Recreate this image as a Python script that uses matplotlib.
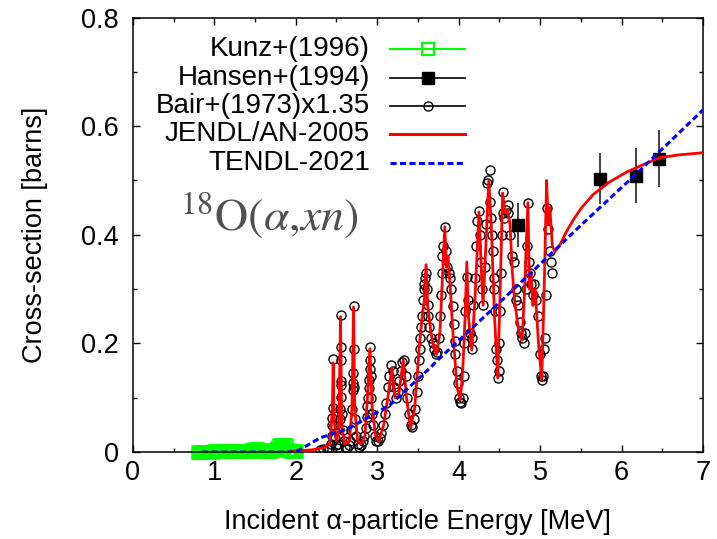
import numpy as np
import matplotlib
matplotlib.use('Agg')
import matplotlib.pyplot as plt
from matplotlib.ticker import MultipleLocator

plt.rcParams['font.family'] = ['Liberation Sans', 'DejaVu Sans']
plt.rcParams['mathtext.fontset'] = 'stix'

# Kunz+(1996) : 閾値以下の小さい値
kunz_e = [0.80, 0.825, 0.85, 0.875, 0.90, 0.925, 0.95, 0.975, 1.00, 1.025, 1.05, 1.075,
          1.10, 1.125, 1.15, 1.175, 1.20, 1.225, 1.25, 1.275, 1.30, 1.325, 1.35, 1.375,
          1.40, 1.425, 1.45, 1.475, 1.50, 1.525, 1.55, 1.575, 1.60, 1.625, 1.65, 1.675,
          1.70, 1.725, 1.75, 1.775, 1.80, 1.825, 1.85, 1.875, 1.90, 1.925, 1.95, 1.975, 2.00]
kunz_xs = [0.0, 0.0, 0.0, 0.0, 0.0005, 0.0005, 0.0005, 0.0005, 0.001, 0.001, 0.001, 0.001,
           0.001, 0.001, 0.001, 0.001, 0.001, 0.001, 0.001, 0.001, 0.001, 0.001, 0.0015, 0.0015,
           0.002, 0.002, 0.003, 0.004, 0.005, 0.005, 0.004, 0.003, 0.002, 0.002, 0.002, 0.002,
           0.002, 0.003, 0.004, 0.008, 0.012, 0.013, 0.013, 0.012, 0.003, 0.002, 0.002, 0.002, 0.002]

# Hansen+(1994)
hansen_e = [4.73, 5.73, 6.18, 6.46]
hansen_xs = [0.418, 0.503, 0.509, 0.540]
hansen_err = [0.040, 0.047, 0.050, 0.052]

# Bair+(1973) x1.35
bair_e = [2.30, 2.34, 2.38, 2.41, 2.43, 2.44, 2.45, 2.45, 2.46, 2.46, 2.47, 2.48, 2.49,
          2.51, 2.52, 2.53, 2.54, 2.54, 2.55, 2.55, 2.55, 2.55, 2.55, 2.56, 2.57, 2.58, 2.59,
          2.61, 2.63, 2.65, 2.67, 2.68, 2.69, 2.70, 2.70, 2.70, 2.71, 2.71, 2.72, 2.73, 2.74,
          2.76, 2.78, 2.80, 2.82, 2.84, 2.86, 2.87, 2.88, 2.89, 2.90, 2.90, 2.91, 2.91, 2.91,
          2.92, 2.93, 2.94, 2.95, 2.97, 2.99, 3.01, 3.03, 3.05, 3.07, 3.09, 3.11, 3.13, 3.15,
          3.17, 3.19, 3.21, 3.23, 3.25, 3.27, 3.29, 3.31, 3.33, 3.35, 3.37, 3.39, 3.41, 3.43,
          3.45, 3.47, 3.49, 3.50, 3.51, 3.52, 3.53, 3.54, 3.55, 3.56, 3.57, 3.58, 3.59, 3.60,
          3.61, 3.62, 3.63, 3.64, 3.66, 3.68, 3.70, 3.72, 3.74, 3.76, 3.77, 3.78, 3.79, 3.80,
          3.81, 3.83, 3.84, 3.86, 3.88, 3.90, 3.91, 3.93, 3.94, 3.95, 3.96, 3.98, 3.99, 4.01,
          4.02, 4.03, 4.05, 4.06, 4.07, 4.08, 4.10, 4.12, 4.14, 4.16, 4.17, 4.18, 4.20, 4.21,
          4.22, 4.25, 4.26, 4.27, 4.29, 4.30, 4.32, 4.33, 4.35, 4.36, 4.38, 4.39, 4.40, 4.41,
          4.42, 4.43, 4.44, 4.45, 4.46, 4.47, 4.48, 4.49, 4.50, 4.51, 4.52, 4.53, 4.54, 4.55,
          4.56, 4.58, 4.60, 4.61, 4.63, 4.66, 4.68, 4.70, 4.71, 4.73, 4.75, 4.76, 4.78, 4.80,
          4.81, 4.83, 4.84, 4.85, 4.86, 4.87, 4.89, 4.91, 4.93, 4.95, 4.98, 5.00, 5.01, 5.02,
          5.03, 5.05, 5.06, 5.07, 5.08, 5.10, 5.12, 5.13, 5.14]
bair_xs = [0.004, 0.005, 0.006, 0.008, 0.015, 0.03, 0.05, 0.063, 0.081, 0.171, 0.05, 0.025, 0.012,
           0.008, 0.015, 0.03, 0.06, 0.08, 0.102, 0.123, 0.17, 0.193, 0.253, 0.13, 0.07, 0.04, 0.02,
           0.01, 0.008, 0.012, 0.02, 0.04, 0.08, 0.114, 0.127, 0.145, 0.189, 0.269, 0.12, 0.06, 0.03,
           0.015, 0.01, 0.012, 0.02, 0.03, 0.045, 0.065, 0.084, 0.10, 0.118, 0.133, 0.152, 0.17, 0.193,
           0.14, 0.10, 0.07, 0.05, 0.03, 0.02, 0.02, 0.025, 0.035, 0.05, 0.07, 0.09, 0.12, 0.14,
           0.16, 0.15, 0.12, 0.10, 0.11, 0.13, 0.15, 0.165, 0.17, 0.14, 0.10, 0.07, 0.05, 0.046,
           0.06, 0.08, 0.11, 0.14, 0.17, 0.19, 0.21, 0.23, 0.25, 0.28, 0.30, 0.31, 0.32, 0.33,
           0.30, 0.27, 0.25, 0.23, 0.21, 0.20, 0.19, 0.18, 0.185, 0.21, 0.25, 0.29, 0.33, 0.36,
           0.38, 0.415, 0.37, 0.34, 0.33, 0.32, 0.30, 0.268, 0.235, 0.205, 0.18, 0.15, 0.127, 0.10,
           0.092, 0.09, 0.10, 0.14, 0.20, 0.26, 0.323, 0.28, 0.22, 0.19, 0.21, 0.27, 0.32, 0.38,
           0.425, 0.443, 0.40, 0.35, 0.30, 0.27, 0.34, 0.42, 0.495, 0.50, 0.52, 0.46, 0.43, 0.40,
           0.37, 0.32, 0.30, 0.26, 0.19, 0.17, 0.137, 0.15, 0.20, 0.26, 0.33, 0.40, 0.44, 0.478,
           0.43, 0.446, 0.44, 0.455, 0.40, 0.36, 0.35, 0.30, 0.28, 0.27, 0.24, 0.22, 0.21, 0.20,
           0.22, 0.30, 0.38, 0.459, 0.35, 0.33, 0.31, 0.29, 0.31, 0.28, 0.25, 0.18, 0.14, 0.133,
           0.14, 0.19, 0.21, 0.29, 0.45, 0.41, 0.37, 0.35, 0.33]

# JENDL/AN-2005
jendl_e = [1.90, 2.00, 2.20, 2.35, 2.42, 2.45, 2.46, 2.47, 2.50, 2.53, 2.55, 2.565, 2.60,
           2.66, 2.69, 2.71, 2.725, 2.76, 2.80, 2.85, 2.88, 2.91, 2.94, 2.98, 3.02, 3.08, 3.14,
           3.18, 3.22, 3.26, 3.32, 3.36, 3.41, 3.46, 3.52, 3.56, 3.58, 3.60, 3.62, 3.66, 3.70,
           3.73, 3.77, 3.81, 3.83, 3.85, 3.87, 3.89, 3.93, 3.98, 4.02, 4.05, 4.08, 4.10, 4.12,
           4.16, 4.20, 4.25, 4.28, 4.30, 4.34, 4.37, 4.40, 4.44, 4.48, 4.51, 4.54, 4.57, 4.60,
           4.63, 4.66, 4.69, 4.74, 4.78, 4.81, 4.85, 4.87, 4.89, 4.91, 4.94, 4.98, 5.02, 5.05,
           5.08, 5.10, 5.12, 5.15, 5.18, 5.24, 5.32, 5.41, 5.50, 5.65, 5.85, 6.07, 6.25, 6.47,
           6.70, 7.00]
jendl_xs = [0.0, 0.002, 0.004, 0.008, 0.015, 0.08, 0.164, 0.06, 0.02, 0.04, 0.249, 0.05, 0.015,
            0.02, 0.08, 0.267, 0.08, 0.02, 0.015, 0.03, 0.10, 0.19, 0.08, 0.03, 0.02, 0.05, 0.11,
            0.155, 0.10, 0.10, 0.17, 0.10, 0.044, 0.08, 0.20, 0.26, 0.28, 0.345, 0.27, 0.22, 0.19,
            0.18, 0.22, 0.35, 0.415, 0.34, 0.36, 0.32, 0.22, 0.12, 0.096, 0.15, 0.25, 0.35, 0.25,
            0.188, 0.28, 0.442, 0.33, 0.27, 0.40, 0.50, 0.42, 0.25, 0.136, 0.30, 0.477, 0.44, 0.446,
            0.42, 0.33, 0.275, 0.22, 0.206, 0.30, 0.459, 0.30, 0.33, 0.27, 0.30, 0.20, 0.133, 0.30,
            0.50, 0.42, 0.45, 0.38, 0.369, 0.38, 0.405, 0.428, 0.448, 0.474, 0.497, 0.516, 0.528, 0.542,
            0.547, 0.551]

# TENDL-2021
tendl_e = [0.85, 2.00, 2.30, 2.66, 3.16, 3.65, 3.77, 4.50, 5.24, 5.49, 6.18, 7.00]
tendl_xs = [0.0, 0.0, 0.026, 0.044, 0.087, 0.155, 0.173, 0.275, 0.38, 0.416, 0.512, 0.63]

labels = ['Kunz+(1996)', 'Hansen+(1994)', 'Bair+(1973)x1.35', 'JENDL/AN-2005', 'TENDL-2021']
xticks = [0, 1, 2, 3, 4, 5, 6, 7]
yticks = [0, 0.2, 0.4, 0.6, 0.8]
ytick_labels = ['0', '0.2', '0.4', '0.6', '0.8']

fs = 19.5
fig = plt.figure(figsize=(7.17, 5.39), dpi=100)
ax = fig.add_axes([0.1852, 0.1614, 0.7953, 0.8061])

ax.plot(kunz_e, kunz_xs, ls='none', marker='s', ms=8.5, mfc='none', mec='#00ff00', mew=1.8,
        zorder=2, clip_on=False)
ax.plot(bair_e, bair_xs, ls='none', marker='o', ms=6.5, mfc='none', mec='black', mew=1.0, zorder=3)
ax.errorbar(hansen_e, hansen_xs, yerr=hansen_err, fmt='s', ms=9, color='black',
            ecolor='#222222', elinewidth=1.2, capsize=0, zorder=4)
ax.plot(jendl_e, jendl_xs, color='red', lw=2.0, zorder=5)
ax.plot(tendl_e, tendl_xs, color='blue', lw=2.2, ls=(0, (2.0, 1.1)), zorder=6)

ax.set_xlim(0, 7)
ax.set_ylim(0, 0.8)
ax.set_xticks(xticks)
ax.set_yticks(yticks)
ax.set_yticklabels(ytick_labels)
ax.xaxis.set_minor_locator(MultipleLocator(0.5))
ax.yaxis.set_minor_locator(MultipleLocator(0.1))
ax.tick_params(which='both', direction='in', top=True, right=True, width=1.0, labelsize=fs)
ax.tick_params(which='major', length=5)
ax.tick_params(which='minor', length=3)
ax.tick_params(axis='x', pad=6)
ax.tick_params(axis='y', pad=10)
for s in ax.spines.values():
    s.set_linewidth(1.1)

ax.set_xlabel('Incident α-particle Energy [MeV]', fontsize=fs, labelpad=16)
ax.set_ylabel('Cross-section [barns]', fontsize=fs, labelpad=24)

# 手書きの凡例 (テキスト右寄せ)
rows = [0.9275, 0.861, 0.796, 0.732, 0.665]
styles = [dict(color='#00ff00', lw=1.5, marker='s', ms=8, mfc='none', mew=1.5),
          dict(color='black', lw=1.2, marker='s', ms=9, mfc='black'),
          dict(color='black', lw=1.2, marker='o', ms=6.5, mfc='none', mew=1.0),
          dict(color='red', lw=2.2),
          dict(color='blue', lw=2.2, ls=(0, (2.0, 1.1)))]
for lab, yy, st in zip(labels, rows, styles):
    ax.text(0.416, yy, lab, transform=ax.transAxes, ha='right', va='center', fontsize=20)
    mk = st.pop('marker', None)
    ms = st.pop('ms', None)
    mfc = st.pop('mfc', None)
    mew = st.pop('mew', None)
    ax.plot([0.451, 0.583], [yy, yy], transform=ax.transAxes, clip_on=False, **st)
    if mk:
        ax.plot([0.517], [yy], transform=ax.transAxes, marker=mk, ms=ms, mfc=mfc,
                mec=st['color'], mew=mew if mew else 1.0, ls='none', clip_on=False)

ax.text(0.58, 0.41, r'$^{18}\mathrm{O}(\alpha{,}xn)$', fontsize=33, color='#505050',
        ha='left', va='baseline')

fig.savefig('out.png', dpi=100)
